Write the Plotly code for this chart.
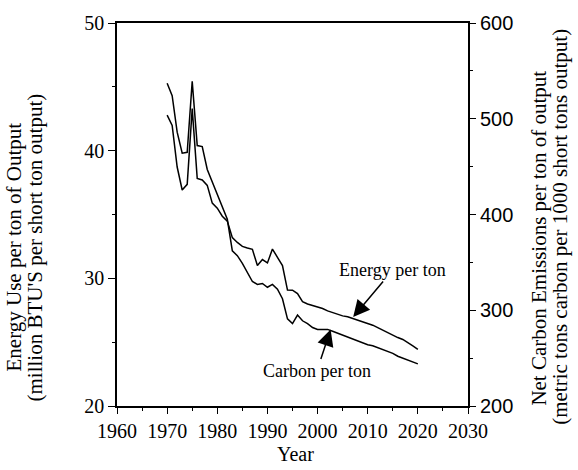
import plotly.graph_objects as go

years = list(range(1970, 2021))

energy_per_ton = [42.78, 41.98, 38.72, 36.92, 37.36, 43.29, 37.82, 37.70, 37.28, 35.89,
                  35.50, 34.87, 34.48, 33.19, 32.81, 32.50, 32.38, 32.27, 31.00, 31.47,
                  31.21, 32.29, 31.65, 31.00, 29.08, 29.07, 28.80, 28.18, 27.99, 27.87,
                  27.76, 27.64, 27.45, 27.30, 27.18, 27.06, 26.99, 26.87, 26.72, 26.60,
                  26.48, 26.33, 26.14, 25.94, 25.75, 25.56, 25.36, 25.21, 24.98, 24.71,
                  24.44]

carbon_per_ton = [537, 524, 486, 464, 465, 539, 472, 471, 447, 434,
                  422, 407, 395, 362, 357, 349, 340, 330, 327, 328,
                  324, 327, 322, 312, 291, 286, 295, 289, 286, 282,
                  280, 280, 280, 278, 276, 274, 272, 270, 268, 266,
                  264, 263, 261, 259, 257, 255, 252, 250, 248, 246,
                  244]

x_ticks = [1960, 1970, 1980, 1990, 2000, 2010, 2020, 2030]
left_ticks = [20, 30, 40, 50]
right_ticks = [200, 300, 400, 500, 600]

left_title = ["Energy Use per ton of Output", "(million BTU'S per short ton output)"]
right_title = ["Net Carbon Emissions per ton of output",
               "(metric tons carbon per 1000 short tons output)"]

SERIF = "Liberation Serif, Times New Roman, serif"
SANS = "Liberation Sans, Arial, sans-serif"

fig = go.Figure()
fig.add_trace(go.Scatter(x=years, y=energy_per_ton, mode="lines",
                         line=dict(color="black", width=1.5), name="Energy per ton",
                         yaxis="y"))
fig.add_trace(go.Scatter(x=years, y=carbon_per_ton, mode="lines",
                         line=dict(color="black", width=1.5), name="Carbon per ton",
                         yaxis="y2"))

W, H = 578, 470
L, T = 117, 17
pw, ph = 351, 389
R = W - L - pw
B = H - T - ph

def px(xpix):
    return (xpix - L) / pw

def py(ypix):
    return (T + ph - ypix) / ph

fig.update_layout(
    width=W, height=H,
    margin=dict(l=L, r=R, t=T, b=B, pad=0),
    paper_bgcolor="white", plot_bgcolor="white",
    showlegend=False,
    xaxis=dict(range=[1960, 2030], tickvals=x_ticks, ticks="outside", ticklen=6,
               tickwidth=1.2, tickcolor="black", showline=True, linecolor="black",
               linewidth=1.5, mirror=True, showgrid=False, zeroline=False,
               tickfont=dict(family=SERIF, size=20, color="black"),
               minor=dict(dtick=5, tick0=1960, ticks="outside", ticklen=3,
                          tickcolor="black", tickwidth=1, showgrid=False)),
    yaxis=dict(range=[20, 50], tickvals=left_ticks, ticks="outside", ticklen=7,
               tickwidth=1.2, tickcolor="black", showline=True, linecolor="black",
               linewidth=1.5, showgrid=False, zeroline=False,
               tickfont=dict(family=SERIF, size=20, color="black"),
               minor=dict(dtick=5, tick0=20, ticks="outside", ticklen=3,
                          tickcolor="black", tickwidth=1, showgrid=False)),
    yaxis2=dict(range=[200, 600], tickvals=right_ticks, overlaying="y", side="right",
                ticks="outside", ticklen=6, tickwidth=1.2, tickcolor="black",
                showline=True, linecolor="black", linewidth=2, showgrid=False,
                zeroline=False,
                tickfont=dict(family=SANS, size=20, color="black"),
                minor=dict(dtick=50, tick0=200, ticks="outside", ticklen=3,
                           tickcolor="black", tickwidth=1, showgrid=False)),
)

def vtext(text, xpix, ypix, size=21):
    return dict(text=text, xref="paper", yref="paper", x=px(xpix), y=py(ypix),
                textangle=-90, showarrow=False,
                font=dict(family=SERIF, size=size, color="black"),
                xanchor="center", yanchor="middle")

annotations = [
    vtext(left_title[0], 14, 245),
    vtext(left_title[1], 35, 245),
    vtext(right_title[0], 539, 236),
    vtext(right_title[1], 560, 224),
    dict(text="Year", xref="paper", yref="paper", x=px(295), y=py(455),
         showarrow=False, font=dict(family=SERIF, size=20, color="black"),
         xanchor="center", yanchor="middle"),
    dict(text="Energy per ton", x=2007.1, y=26.97, xref="x", yref="y",
         ax=2015.0, ay=30.65, axref="x", ayref="y", showarrow=True,
         arrowhead=2, arrowsize=2.2, arrowwidth=1.5, arrowcolor="black",
         font=dict(family=SERIF, size=18, color="black")),
    dict(text="Carbon per ton", x=2002.6, y=280, xref="x", yref="y2",
         ax=1999.9, ay=237, axref="x", ayref="y2", showarrow=True,
         arrowhead=2, arrowsize=2.2, arrowwidth=1.5, arrowcolor="black",
         font=dict(family=SERIF, size=18, color="black")),
]
fig.update_layout(annotations=annotations)

fig.write_html("out.html", config={"displayModeBar": False},
               post_script="document.body.style.margin='0';document.body.style.padding='0';")
